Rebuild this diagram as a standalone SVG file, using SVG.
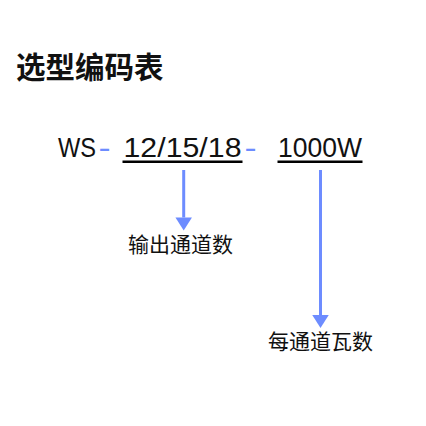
<svg xmlns="http://www.w3.org/2000/svg" width="426" height="426" viewBox="0 0 426 426">
  <style>
    .cjk { font-family: "Noto Sans CJK SC", "Noto Sans", sans-serif; fill: #111; }
    .title { font-size: 29.5px; font-weight: bold; }
    .label { font-size: 21px; text-anchor: middle; }
    .code { font-family: "Liberation Sans", Arial, sans-serif; font-size: 28px; fill: #111; }
    .dash { fill: #6d8cff; }
    .ul { stroke: #000; stroke-width: 2.6; }
    .conn { stroke: #6d8cff; stroke-width: 3; fill: none; }
  </style>
  <defs>
    <marker id="arrow" markerUnits="userSpaceOnUse" markerWidth="14" markerHeight="17" refX="0" refY="8.25" orient="auto" overflow="visible">
      <path d="M0,0 L13,8.25 L0,16.5 z" fill="#6d8cff"/>
    </marker>
  </defs>
  <rect width="426" height="426" fill="#fff"/>

  <g id="title">
    <text class="cjk title" x="16" y="77.5">选型编码表</text>
  </g>

  <g id="prefix-ws">
    <text class="code" transform="translate(58,157) scale(0.844,1)" x="0" y="0">WS</text>
  </g>
  <g id="sep1">
    <text class="code dash" transform="translate(98.6,157) scale(1.3,1)" x="0" y="0">-</text>
  </g>
  <g id="channels-code">
    <text class="code" transform="translate(123.5,157) scale(1.083,1)" x="0" y="0">12/15/18</text>
    <line class="ul" x1="122.5" y1="161.8" x2="242.5" y2="161.8"/>
  </g>
  <g id="sep2">
    <text class="code dash" transform="translate(244.6,157) scale(1.3,1)" x="0" y="0">-</text>
  </g>
  <g id="watt-code">
    <text class="code" transform="translate(278,157) scale(0.947,1)" x="0" y="0">1000W</text>
    <line class="ul" x1="277.5" y1="161.8" x2="362.5" y2="161.8"/>
  </g>

  <g id="connectors">
    <line class="conn" x1="183.7" y1="170" x2="183.7" y2="217.5" marker-end="url(#arrow)"/>
    <line class="conn" x1="320.5" y1="170" x2="320.5" y2="315" marker-end="url(#arrow)"/>
  </g>

  <g id="label-channels">
    <text class="cjk label" x="180.5" y="252">输出通道数</text>
  </g>
  <g id="label-watts">
    <text class="cjk label" x="320.5" y="348.5">每通道瓦数</text>
  </g>
</svg>
